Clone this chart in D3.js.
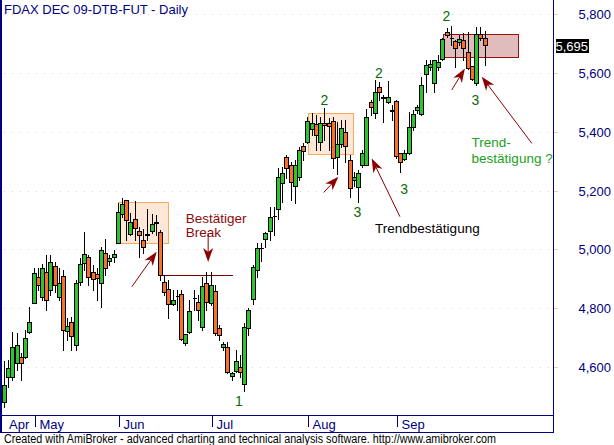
<!DOCTYPE html>
<meta charset="utf-8">
<body style="margin:0;background:#fff">
<svg id="chart"></svg>
<script src="https://cdn.jsdelivr.net/npm/d3@7/dist/d3.min.js"></script>
<script>
// daily bars, FDAX Dec 09, 22 Apr .. 30 Sep 2009
var opens = [4482,4565,4565,4613,4635,4635,4719,4817,4907,4839,4924,4862,4943,4838,4909,4723,4754,4675,4890,4952,
  4975,4923,4916,4886,4986,4960,4973,5020,5119,5168,5051,5103,5062,5032,5052,5063,5092,5058,4890,4865,
  4814,4842,4848,4680,4720,4835,4820,4737,4884,4816,4858,4731,4667,4667,4570,4587,4599,4541,4733,4832,
  4930,5006,5034,5063,5115,5136,5226,5313,5287,5215,5247,5351,5364,5409,5426,5366,5430,5428,5436,5313,
  5358,5398,5304,5236,5213,5287,5287,5500,5462,5551,5517,5502,5472,5504,5326,5307,5326,5415,5474,5460,
  5595,5621,5566,5621,5646,5740,5720,5708,5704,5712,5672,5623,5564,5731,5717];
var highs = [4621,4624,4719,4715,4647,4726,4805,4936,4936,4950,4981,4981,4957,4936,4930,4766,4771,4896,4970,5060,
  4981,4947,4936,5009,5035,4981,4998,5157,5173,5168,5123,5164,5077,5069,5137,5120,5117,5066,4913,4896,
  4862,4862,4862,4712,4828,4862,4845,4906,4923,4924,4879,4743,4686,4686,4582,4658,4641,4750,4801,4947,
  5020,5020,5060,5143,5143,5275,5281,5321,5298,5304,5349,5360,5451,5462,5457,5451,5479,5446,5451,5434,
  5440,5440,5320,5263,5270,5338,5477,5508,5576,5570,5525,5573,5491,5506,5328,5338,5468,5474,5491,5587,
  5644,5644,5645,5661,5718,5751,5759,5710,5729,5734,5738,5623,5757,5757,5743];
var lows = [4465,4532,4556,4590,4556,4630,4715,4817,4862,4828,4794,4845,4855,4828,4658,4692,4658,4658,4879,4930,
  4879,4862,4828,4805,4913,4947,4957,5020,5111,5032,5049,5032,4975,4987,5032,5055,5049,4896,4845,4766,
  4811,4794,4692,4675,4715,4794,4760,4726,4794,4811,4709,4692,4658,4580,4556,4583,4567,4519,4709,4814,
  4905,4961,5009,5032,5049,5102,5162,5242,5168,5156,5236,5304,5360,5389,5338,5338,5372,5338,5275,5256,
  5348,5298,5179,5215,5162,5280,5285,5457,5446,5508,5434,5497,5440,5310,5264,5304,5325,5406,5463,5457,
  5536,5610,5536,5610,5644,5722,5695,5621,5695,5644,5613,5576,5559,5712,5627];
var closes = [4539,4595,4669,4675,4612,4698,4754,4919,4879,4936,4828,4957,4879,4885,4726,4739,4705,4885,4950,4984,
  4907,4899,4902,4998,4935,4971,4983,5126,5154,5100,5092,5071,5049,5009,5050,5085,5090,4913,4856,4814,
  4828,4840,4694,4711,4790,4833,4794,4875,4820,4879,4716,4709,4678,4582,4578,4620,4582,4735,4794,4941,
  5003,5005,5054,5109,5114,5247,5260,5275,5228,5287,5338,5335,5436,5428,5389,5428,5423,5420,5309,5357,
  5413,5351,5207,5245,5260,5326,5449,5483,5534,5536,5516,5517,5471,5317,5298,5326,5417,5460,5483,5559,
  5627,5630,5644,5638,5714,5729,5719,5683,5714,5683,5615,5578,5732,5717,5695];

var months = ["Apr", "May", "Jun", "Jul", "Aug", "Sep"];
var monthStart = [null, 7, 27, 49, 72, 93];   // bar index of first trading day
var priceTicks = [4600, 4800, 5000, 5200, 5400, 5600, 5800];
var lastClose = 5695;

// annotations, in bar index / price
var boxes = [
  {i0: 26.8, i1: 38.7, p0: 5161, p1: 5021, fill: "#fde7d6", stroke: "#f7a95c"},
  {i0: 71.96, i1: 82.6, p0: 5462, p1: 5324, fill: "#fde7d6", stroke: "#f7a95c"},
  {i0: 104, i1: 121.8, p0: 5732, p1: 5653, fill: "#e0bcbc", stroke: "#9c1010"}
];
var breakLine = {i0: 36.8, i1: 54.1, p: 4912};
var arrows = [
  {i0: 30.1, p0: 4873, i1: 36, p1: 4992},
  {i0: 48.2, p0: 5055, i1: 48.2, p1: 4957},
  {i0: 75.6, p0: 5193, i1: 79.1, p1: 5247},
  {i0: 93.7, p0: 5111, i1: 87, p1: 5309},
  {i0: 106, p0: 5542, i1: 109.1, p1: 5615},
  {i0: 125, p0: 5360, i1: 113.1, p1: 5587}
];
var waveLabels = [
  {t: "1", i: 55.5, p: 4467}, {t: "2", i: 75.8, p: 5491}, {t: "2", i: 88.7, p: 5581},
  {t: "2", i: 104.7, p: 5777}, {t: "3", i: 83.6, p: 5111}, {t: "3", i: 94.7, p: 5188},
  {t: "3", i: 111.6, p: 5491}
];
var notes = [
  {t: "Bestätiger", i: 42.9, p: 5089, c: "#8b0a0a"},
  {t: "Break", i: 42.9, p: 5041, c: "#8b0a0a"},
  {t: "Trendbestätigung", i: 87.8, p: 5057, c: "#000"},
  {t: "Trend-", i: 110.7, p: 5349, c: "#22a022"},
  {t: "bestätigung ?", i: 110.7, p: 5292, c: "#22a022"}
];

var W = 614, H = 445, plotR = 553, plotB = 415, axisB = 432;
var navy = "#000080", font = "'Liberation Sans', Arial, sans-serif";

var svg = d3.select("#chart").attr("width", W).attr("height", H)
  .style("display", "block").style("font-family", font);

var x = d3.scaleLinear().domain([7, 93]).range([34.5, 397]);
var y = d3.scaleLinear().domain([4600, 5800]).range([367, 14]);

// grid
var grid = svg.append("g");
priceTicks.forEach(function(t) {
  var yy = Math.round(y(t)) + 0.5;
  grid.append("line").attr("x1", 4).attr("x2", plotR).attr("y1", yy).attr("y2", yy)
    .attr("stroke", "#f6c3d3").attr("stroke-dasharray", "1,7");
  grid.append("line").attr("x1", 554).attr("x2", 558).attr("y1", yy).attr("y2", yy)
    .attr("stroke", "#f6c3d3");
  svg.append("text").attr("x", 611).attr("y", yy + 4.5).attr("text-anchor", "end")
    .attr("font-size", 13).attr("fill", navy).text(d3.format(",")(t));
});

// boxes behind candles
svg.append("g").selectAll("rect").data(boxes).enter().append("rect")
  .attr("x", d => Math.round(x(d.i0)) + 0.5)
  .attr("y", d => Math.round(y(d.p0)) + 0.5)
  .attr("width", d => Math.round(x(d.i1)) - Math.round(x(d.i0)))
  .attr("height", d => Math.round(y(d.p1)) - Math.round(y(d.p0)))
  .attr("fill", d => d.fill).attr("stroke", d => d.stroke);

svg.append("line")
  .attr("x1", x(breakLine.i0)).attr("x2", x(breakLine.i1))
  .attr("y1", Math.round(y(breakLine.p)) + 0.5).attr("y2", Math.round(y(breakLine.p)) + 0.5)
  .attr("stroke", "#7a0000");

// candles
var bars = d3.range(opens.length);
var cg = svg.append("g").attr("shape-rendering", "crispEdges");
cg.selectAll("line").data(bars).enter().append("line")
  .attr("x1", i => Math.round(x(i)) - 0.5).attr("x2", i => Math.round(x(i)) - 0.5)
  .attr("y1", i => Math.round(y(highs[i]))).attr("y2", i => Math.round(y(lows[i])) + 1)
  .attr("stroke", "#000");
cg.selectAll("path").data(bars).enter().append("path")
  .attr("d", function(i) {
    var l = Math.round(x(i)) - 2.5;
    var t = Math.round(y(Math.max(opens[i], closes[i]))) + 0.5;
    var b = Math.round(y(Math.min(opens[i], closes[i]))) + 0.5;
    return "M" + l + "," + t + "h4V" + b + "h-4Z";
  })
  .attr("fill", i => closes[i] >= opens[i] ? "#2ec42e" : "#f8702a")
  .attr("stroke", "#000");

// arrows
var ag = svg.append("g");
arrows.forEach(function(a) {
  var x1 = x(a.i0), y1 = y(a.p0), x2 = x(a.i1), y2 = y(a.p1);
  var dx = x2 - x1, dy = y2 - y1, len = Math.sqrt(dx * dx + dy * dy);
  var ux = dx / len, uy = dy / len, nx = -uy, ny = ux;
  var bx = x2 - ux * 14, by = y2 - uy * 14, mx = x2 - ux * 10, my = y2 - uy * 10;
  ag.append("line").attr("x1", x1).attr("y1", y1).attr("x2", mx).attr("y2", my)
    .attr("stroke", "#8b0000");
  ag.append("path").attr("fill", "#8b0000")
    .attr("d", "M" + x2 + "," + y2 + "L" + (bx + nx * 5) + "," + (by + ny * 5) +
      "L" + mx + "," + my + "L" + (bx - nx * 5) + "," + (by - ny * 5) + "Z");
});

svg.append("g").selectAll("text").data(waveLabels).enter().append("text")
  .attr("x", d => x(d.i)).attr("y", d => y(d.p)).attr("text-anchor", "middle")
  .attr("font-size", 14).attr("fill", "#0a6a0a").text(d => d.t);
svg.append("g").selectAll("text").data(notes).enter().append("text")
  .attr("x", d => x(d.i)).attr("y", d => y(d.p))
  .attr("font-size", 13.5).attr("fill", d => d.c).text(d => d.t);

// frame
var fg = svg.append("g").attr("stroke", navy).attr("shape-rendering", "crispEdges");
fg.append("line").attr("x1", 1).attr("x2", 1).attr("y1", 0).attr("y2", axisB + 1).attr("stroke-width", 2);
fg.append("line").attr("x1", plotR + 0.5).attr("x2", plotR + 0.5).attr("y1", 0).attr("y2", axisB + 1);
fg.append("line").attr("x1", 0).attr("x2", plotR + 1).attr("y1", plotB + 0.5).attr("y2", plotB + 0.5);
fg.append("line").attr("x1", 0).attr("x2", plotR + 1).attr("y1", axisB + 0.5).attr("y2", axisB + 0.5);

// month axis
months.forEach(function(m, k) {
  var tx = monthStart[k] == null ? 5 : Math.round(x(monthStart[k])) + 0.5;
  if (monthStart[k] != null)
    fg.append("line").attr("x1", tx).attr("x2", tx).attr("y1", plotB + 1).attr("y2", plotB + 12);
  svg.append("text").attr("x", monthStart[k] == null ? 9 : tx + 4).attr("y", 428.5)
    .attr("font-size", 13).attr("fill", navy).text(m);
});

// last price box
var ly = Math.round(y(lastClose));
svg.append("rect").attr("x", 556).attr("y", ly - 6).attr("width", 33).attr("height", 14).attr("fill", "#000");
svg.append("text").attr("x", 588).attr("y", ly + 5.5).attr("text-anchor", "end")
  .attr("font-size", 13).attr("fill", "#fff").text(d3.format(",")(lastClose));

svg.append("text").attr("x", 4).attr("y", 14).attr("font-size", 13).attr("fill", navy)
  .text("FDAX DEC 09-DTB-FUT - Daily");
svg.append("text").attr("x", 4).attr("y", 443).attr("font-size", 12).attr("fill", "#000")
  .attr("textLength", 492).attr("lengthAdjust", "spacingAndGlyphs")
  .text("Created with AmiBroker - advanced charting and technical analysis software. http://www.amibroker.com");
</script>
</body>
